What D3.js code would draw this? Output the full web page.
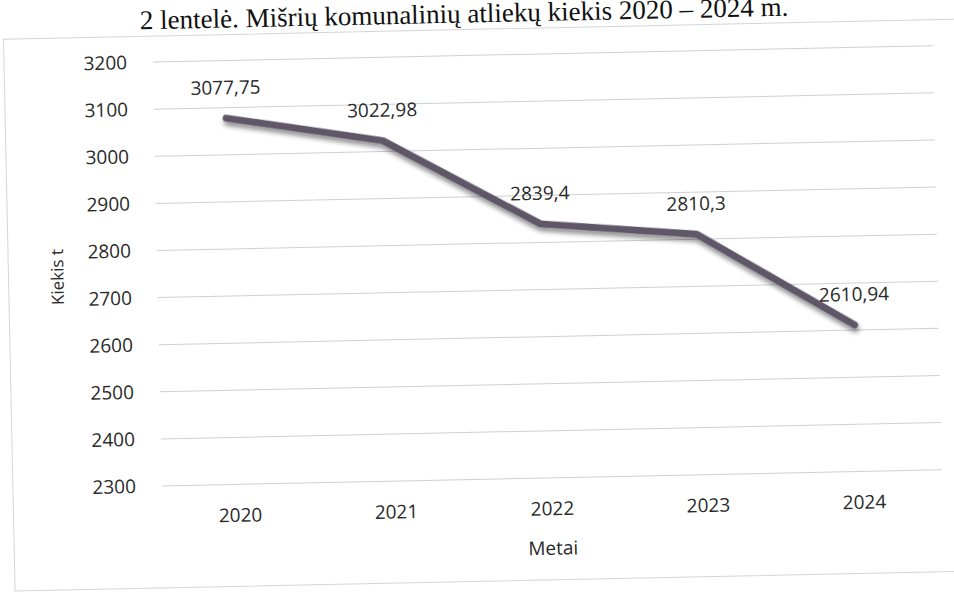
<!DOCTYPE html>
<meta charset="utf-8">
<script src="https://d3js.org/d3.v7.min.js"></script>
<style>
body { margin: 0; background: #fff; }
text { font-family: 'Open Sans', sans-serif; fill: #2a2a2a; }
.title { font-family: 'Liberation Serif', serif; fill: #111; }
</style>
<body>
<div id="chart"></div>
<script>
// data
var years = ["2020", "2021", "2022", "2023", "2024"];
var amounts = [3077.75, 3022.98, 2839.4, 2810.3, 2610.94];
var labels = ["3077,75", "3022,98", "2839,4", "2810,3", "2610,94"];
var yTicks = [2300, 2400, 2500, 2600, 2700, 2800, 2900, 3000, 3100, 3200];

var W = 954, H = 598;

var svg = d3.select("#chart").append("svg")
  .attr("width", W)
  .attr("height", H);

var defs = svg.append("defs");
var f = defs.append("filter").attr("id", "shadow")
  .attr("x", "-10%").attr("y", "-10%").attr("width", "120%").attr("height", "140%");
f.append("feGaussianBlur").attr("in", "SourceAlpha").attr("stdDeviation", 2.5).attr("result", "b");
f.append("feOffset").attr("in", "b").attr("dx", 1).attr("dy", 4).attr("result", "o");
f.append("feComponentTransfer").attr("in", "o").attr("result", "s")
  .append("feFuncA").attr("type", "linear").attr("slope", 0.45);
var m = f.append("feMerge");
m.append("feMergeNode").attr("in", "s");
m.append("feMergeNode").attr("in", "SourceGraphic");

// scanned page is slightly tilted
var g = svg.append("g")
  .attr("transform", "rotate(-1.2, 160, 300)");

// title
g.append("text")
  .attr("class", "title")
  .attr("x", 470)
  .attr("y", 29)
  .attr("text-anchor", "middle")
  .style("font-size", "27px")
  .text("2 lentelė. Mišrių komunalinių atliekų kiekis 2020 – 2024 m.");

// chart border
g.append("rect")
  .attr("x", 9).attr("y", 36)
  .attr("width", 960).attr("height", 552)
  .attr("fill", "none")
  .attr("stroke", "#d4d4dc")
  .attr("stroke-width", 1);

var x = d3.scaleBand()
  .domain(years)
  .range([158, 938]);

var y = d3.scaleLinear()
  .domain([2300, 3200])
  .range([486, 62]);

// gridlines
g.append("g")
  .selectAll("line")
  .data(yTicks)
  .join("line")
    .attr("x1", 158)
    .attr("x2", 938)
    .attr("y1", function(d) { return y(d); })
    .attr("y2", function(d) { return y(d); })
    .attr("stroke", "#cfcfd8")
    .attr("stroke-width", 1);

// y axis labels
var yAxis = g.append("g")
  .attr("transform", "translate(132,0)")
  .call(d3.axisLeft(y).tickValues(yTicks).tickSize(0).tickPadding(0).tickFormat(d3.format("d")));
yAxis.select(".domain").remove();
yAxis.selectAll("text")
  .style("font-size", "19px")
  .style("font-family", "'Open Sans', sans-serif")
  .attr("fill", "#2a2a2a");

// x axis labels
var xAxis = g.append("g")
  .attr("transform", "translate(0,510)")
  .call(d3.axisBottom(x).tickSize(0).tickPadding(0));
xAxis.select(".domain").remove();
xAxis.selectAll("text")
  .style("font-size", "19px")
  .style("font-family", "'Open Sans', sans-serif")
  .attr("fill", "#2a2a2a");

// axis titles
g.append("text")
  .attr("x", 548)
  .attr("y", 563)
  .attr("text-anchor", "middle")
  .style("font-size", "19px")
  .text("Metai");

g.append("text")
  .attr("transform", "translate(64,275) rotate(-90)")
  .attr("text-anchor", "middle")
  .style("font-size", "17px")
  .text("Kiekis t");

// line
var line = d3.line()
  .x(function(d, i) { return x(years[i]) + x.bandwidth() / 2 - 6; })
  .y(function(d) { return y(d); });

g.append("path")
  .datum(amounts)
  .attr("d", line)
  .attr("fill", "none")
  .attr("stroke", "#5f5767")
  .attr("stroke-width", 7)
  .attr("stroke-linejoin", "round")
  .attr("stroke-linecap", "round")
  .attr("filter", "url(#shadow)");

// data labels
g.append("g")
  .selectAll("text")
  .data(amounts)
  .join("text")
    .attr("x", function(d, i) { return x(years[i]) + x.bandwidth() / 2 - 6; })
    .attr("y", function(d) { return y(d) - 24; })
    .attr("text-anchor", "middle")
    .style("font-size", "19px")
    .text(function(d, i) { return labels[i]; });
</script>
</body>
